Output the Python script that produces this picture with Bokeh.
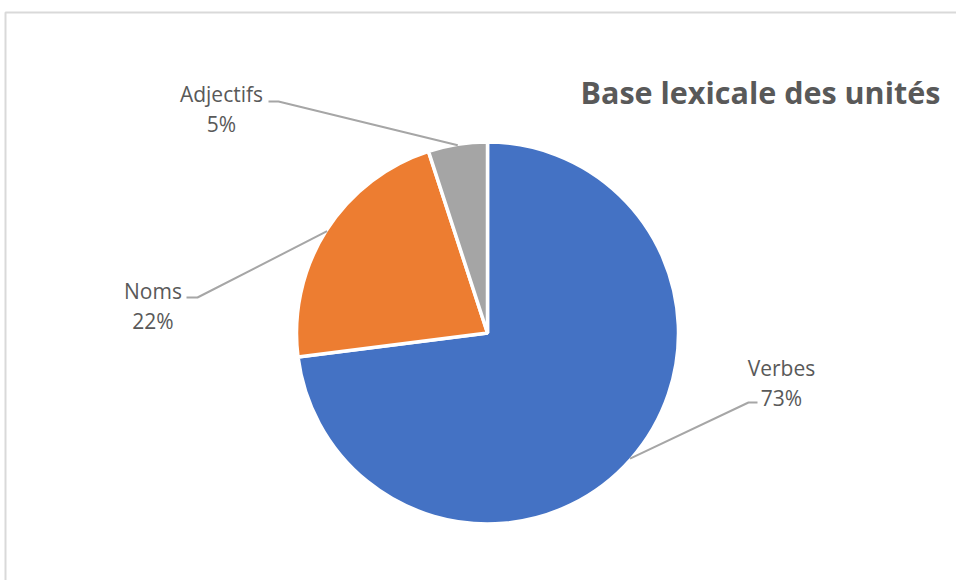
import numpy as np
from bokeh.plotting import figure
from bokeh.models import Range1d, ColumnDataSource
from bokeh.core.properties import value
from bokeh.embed import file_html
from bokeh.resources import INLINE

# ---- data ----
categories = ["Verbes", "Noms", "Adjectifs"]
percents = [73, 22, 5]
colors = ["#4472C4", "#ED7D31", "#A5A5A5"]
title_text = "Base lexicale des unités"

# ---- layout (pixel coordinates, y measured from top) ----
W, H = 956, 580
cx_px, cy_px, radius = 487, 332.5, 191
LABEL_FS, TITLE_FS = 21, 30.5
SHIFT = 0.36  # baseline correction (fraction of font size)
# label text positions: (x center, baseline of name line, baseline of % line)
label_pos = {
    "Verbes": (781, 375, 405),
    "Noms": (152.5, 298, 328),
    "Adjectifs": (221, 101, 131),
}
# leader elbow: (elbow x, elbow y, end x)
leader_pos = {
    "Verbes": (748, 402, 757),
    "Noms": (197, 297, 186),
    "Adjectifs": (278, 101, 268),
}

def Y(ypx):
    return H - ypx

cx, cy = cx_px, Y(cy_px)

p = figure(width=W, height=H, output_backend="svg", toolbar_location=None,
           x_range=Range1d(0, W), y_range=Range1d(0, H), min_border=0)
p.axis.visible = False
p.grid.visible = False
p.outline_line_color = None
p.background_fill_color = "white"
p.border_fill_color = "white"

# outer frame
p.quad(left=[5], right=[W + 20], top=[Y(12)], bottom=[-20],
       fill_color=None, line_color="#d9d9d9", line_width=2)

total = float(sum(percents))
fr = np.array(percents) / total
cum = np.concatenate([[0], np.cumsum(fr)])
start = np.pi / 2 - 2 * np.pi * cum[:-1]
end = np.pi / 2 - 2 * np.pi * cum[1:]
mid = (start + end) / 2

src = ColumnDataSource(dict(start=start, end=end, color=colors, cat=categories))
p.wedge(x=cx, y=cy, radius=radius, start_angle="start", end_angle="end",
        direction="clock", fill_color="color", line_color="white", line_width=3.5,
        source=src)

# leader lines and labels
for i, cat in enumerate(categories):
    ax = cx + (radius - 1) * np.cos(mid[i])
    ay = cy + (radius - 1) * np.sin(mid[i])
    ex, ey, endx = leader_pos[cat]
    p.line([ax, ex, endx], [ay, Y(ey), Y(ey)], line_color="#A6A6A6", line_width=2)
    lx, b1, b2 = label_pos[cat]
    s = SHIFT * LABEL_FS
    p.text(x=[lx, lx], y=[Y(b1 - s), Y(b2 - s)], text=[cat, f"{percents[i]}%"],
           text_font=value("Open Sans"), text_font_size=f"{LABEL_FS}px",
           text_color="#595959", text_align="center", text_baseline="alphabetic")

p.text(x=[580], y=[Y(102.3 - SHIFT * TITLE_FS)], text=[title_text],
       text_font=value("Open Sans"), text_font_size=f"{TITLE_FS}px",
       text_font_style="bold", text_color="#595959",
       text_align="left", text_baseline="alphabetic")

open("out.html", "w").write(file_html(p, INLINE))
